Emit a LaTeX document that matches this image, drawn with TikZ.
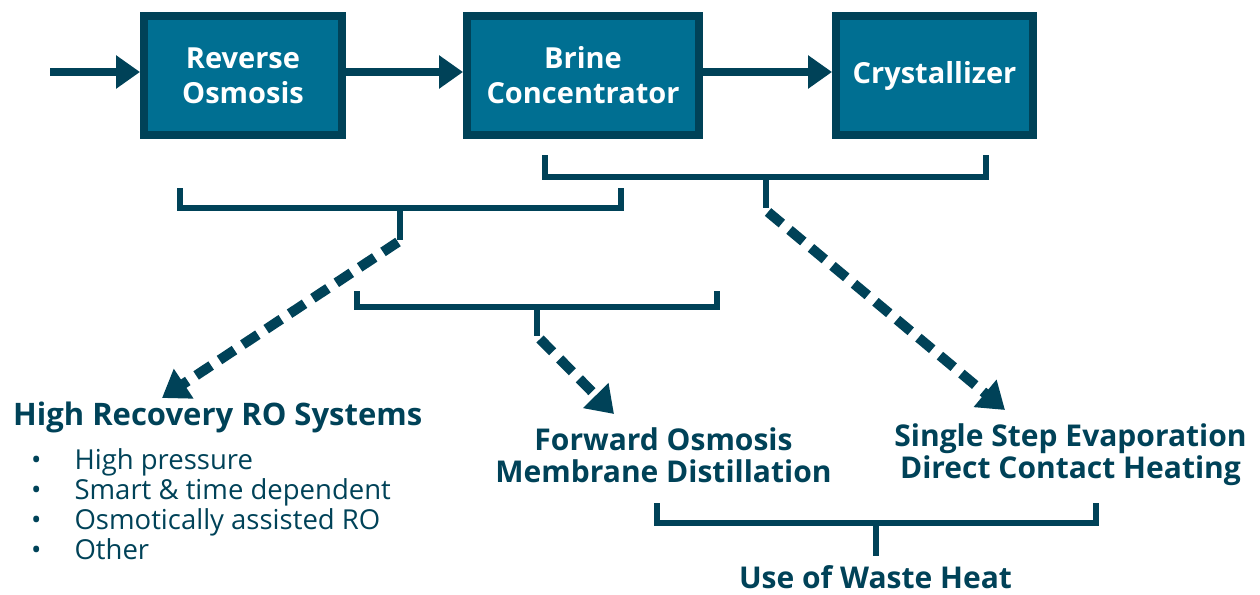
\documentclass[tikz,border=0pt]{standalone}
\usepackage{fontspec}
\setmainfont{Open Sans}
\usetikzlibrary{arrows.meta}
\definecolor{boxfill}{RGB}{0,111,146}
\definecolor{dark}{RGB}{0,66,88}
\begin{document}
\begin{tikzpicture}[x=1pt,y=-1pt,
  proc/.style={draw=dark, line width=8pt, fill=boxfill, text=white,
    font=\bfseries\fontsize{29}{35}\selectfont, align=center, inner sep=0pt},
  flow/.style={draw=dark, line width=8pt, -{Triangle[length=24pt,width=32pt]}},
  brk/.style={draw=dark, line width=6pt},
  dasharrow/.style={draw=dark, line width=10pt, dash pattern=on 18pt off 10pt,
    -{Triangle[length=26pt,width=34pt]}},
  lbl/.style={text=dark, font=\bfseries\fontsize{30}{32}\selectfont, align=center, inner sep=0pt},
  itemlist/.style={text=dark, font=\fontsize{27.5}{30}\selectfont, align=left, inner sep=0pt}]
\useasboundingbox (0,0) rectangle (1260,594);

% process boxes
\node[proc, minimum width=198pt, minimum height=119pt] (ro) at (243,75.5) {Reverse\\Osmosis};
\node[proc, minimum width=232pt, minimum height=119pt] (bc) at (583,75.5) {Brine\\Concentrator};
\node[proc, minimum width=197pt, minimum height=119pt] (cr) at (934.5,75.5) {Crystallizer};

% main flow
\coordinate (in) at (50,72);
\draw[flow] (in) -- (in -| ro.west);
\draw[flow] (ro.east |- in) -- (bc.west |- in);
\draw[flow] (bc.east |- in) -- (cr.west |- in);

% bracket A (RO + BC)
\coordinate (aL) at (180,188);
\coordinate (aR) at (621,188);
\coordinate (aM) at (400,208);
\coordinate (aS) at (400,240);
\draw[brk] (aL) |- (aM) -| (aR);
\draw[brk] (aM) -- (aS);

% bracket B (BC + Crystallizer)
\coordinate (bL) at (545,155);
\coordinate (bR) at (986,155);
\coordinate (bM) at (766,177);
\coordinate (bS) at (766,208);
\draw[brk] (bL) |- (bM) -| (bR);
\draw[brk] (bM) -- (bS);

% bracket C
\coordinate (cL) at (357,291);
\coordinate (cR) at (717,291);
\coordinate (cM) at (537,307);
\coordinate (cS) at (537,336);
\draw[brk] (cL) |- (cM) -| (cR);
\draw[brk] (cM) -- (cS);

% labels
\node[lbl, font=\bfseries\fontsize{31}{32}\selectfont, anchor=base west] (hr) at (13,425) {High Recovery RO Systems};
\node[itemlist, anchor=base west] (items) at (31,559)
  {•\hspace{33pt}High pressure\\
   •\hspace{33pt}Smart \& time dependent\\
   •\hspace{33pt}Osmotically assisted RO\\
   •\hspace{33pt}Other};
\node[lbl] (fo) at (663.5,455) {Forward Osmosis\\Membrane Distillation};
\node[lbl] (ss) at (1070.5,455) {Single Step Evaporation\\Direct Contact Heating};
\node[lbl] (wh) at (875.5,577) {Use of Waste Heat};

% dashed arrows
\coordinate (t1) at (162,398);
\coordinate (t2) at (614,414);
\coordinate (t3) at (1005,410);
\draw[dasharrow] ([shift={(-2,2)}]aS) -- (t1);
\draw[dasharrow] ([shift={(3,3)}]cS) -- (t2);
\draw[dasharrow] ([shift={(2,4)}]bS) -- (t3);

% bracket D
\coordinate (dL) at (657,503);
\coordinate (dR) at (1096,503);
\coordinate (dM) at (876,523);
\coordinate (dS) at (876,556);
\draw[brk] (dL) |- (dM) -| (dR);
\draw[brk] (dM) -- (dS);
\end{tikzpicture}
\end{document}
